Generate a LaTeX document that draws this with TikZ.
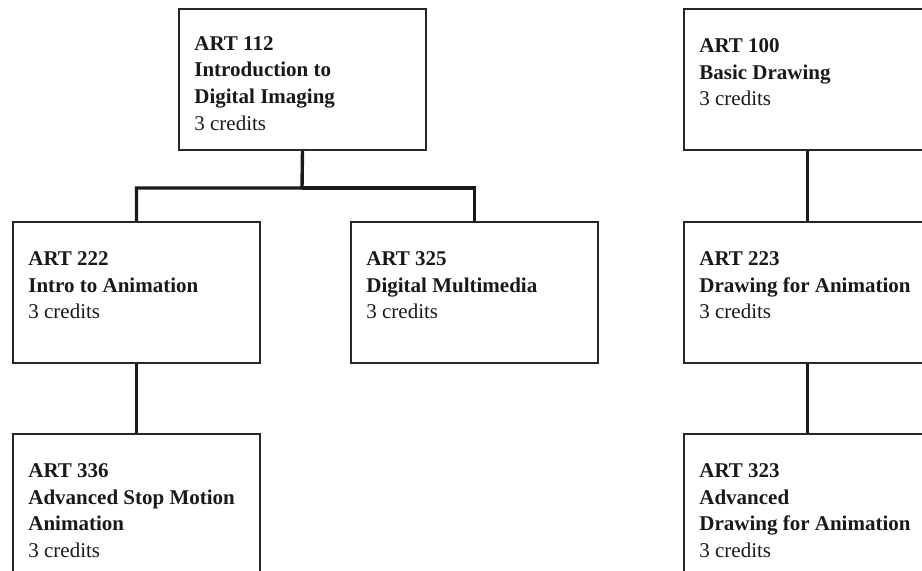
\documentclass[tikz,border=0pt]{standalone}
\usepackage{fontspec}
\setmainfont{Liberation Serif}
\begin{document}
\begin{tikzpicture}[x=0.5pt, y=-0.5pt,
  course box/.style={draw=black!85, line width=1pt, anchor=north west, minimum width=123.5pt, minimum height=70.5pt, inner sep=0pt},
  course text/.style={anchor=north west, align=left, inner sep=0pt, font=\fontsize{10.5}{13.35}\selectfont, text=black!90},
  link/.style={draw=black!90, line width=1.7pt}]
\path[use as bounding box, clip] (0,0) rectangle (922,571);
% boxes
\node[course box] (art112) at (178,8) {};
\node[course box] (art222) at (12,221) {};
\node[course box] (art325) at (350,221) {};
\node[course box] (art336) at (12,433) {};
\node[course box] (art100) at (683,8) {};
\node[course box] (art223) at (683,221) {};
\node[course box] (art323) at (683,433) {};
% texts
\node[course text] (art112t) at ([shift={(16,28)}]art112.north west) {\textbf{ART 112}\\\textbf{Introduction to}\\\textbf{Digital Imaging}\\3 credits};
\node[course text] (art222t) at ([shift={(16,30)}]art222.north west) {\textbf{ART 222}\\\textbf{Intro to Animation}\\3 credits};
\node[course text] (art325t) at ([shift={(16,30)}]art325.north west) {\textbf{ART 325}\\\textbf{Digital Multimedia}\\3 credits};
\node[course text] (art336t) at ([shift={(16,30)}]art336.north west) {\textbf{ART 336}\\\textbf{Advanced Stop Motion}\\\textbf{Animation}\\3 credits};
\node[course text] (art100t) at ([shift={(16,30)}]art100.north west) {\textbf{ART 100}\\\textbf{Basic Drawing}\\3 credits};
\node[course text] (art223t) at ([shift={(16,30)}]art223.north west) {\textbf{ART 223}\\\textbf{Drawing for Animation}\\3 credits};
\node[course text] (art323t) at ([shift={(16,30)}]art323.north west) {\textbf{ART 323}\\\textbf{Advanced}\\\textbf{Drawing for Animation}\\3 credits};
% links
\coordinate (fork) at (302,188);
\draw[link] (art112.south) -- (fork) -| (art222.north);
\draw[link] (fork) -| (art325.north);
\draw[link] (art222.south) -- (art336.north);
\draw[link] (art100.south) -- (art223.north);
\draw[link] (art223.south) -- (art323.north);
\end{tikzpicture}
\end{document}
